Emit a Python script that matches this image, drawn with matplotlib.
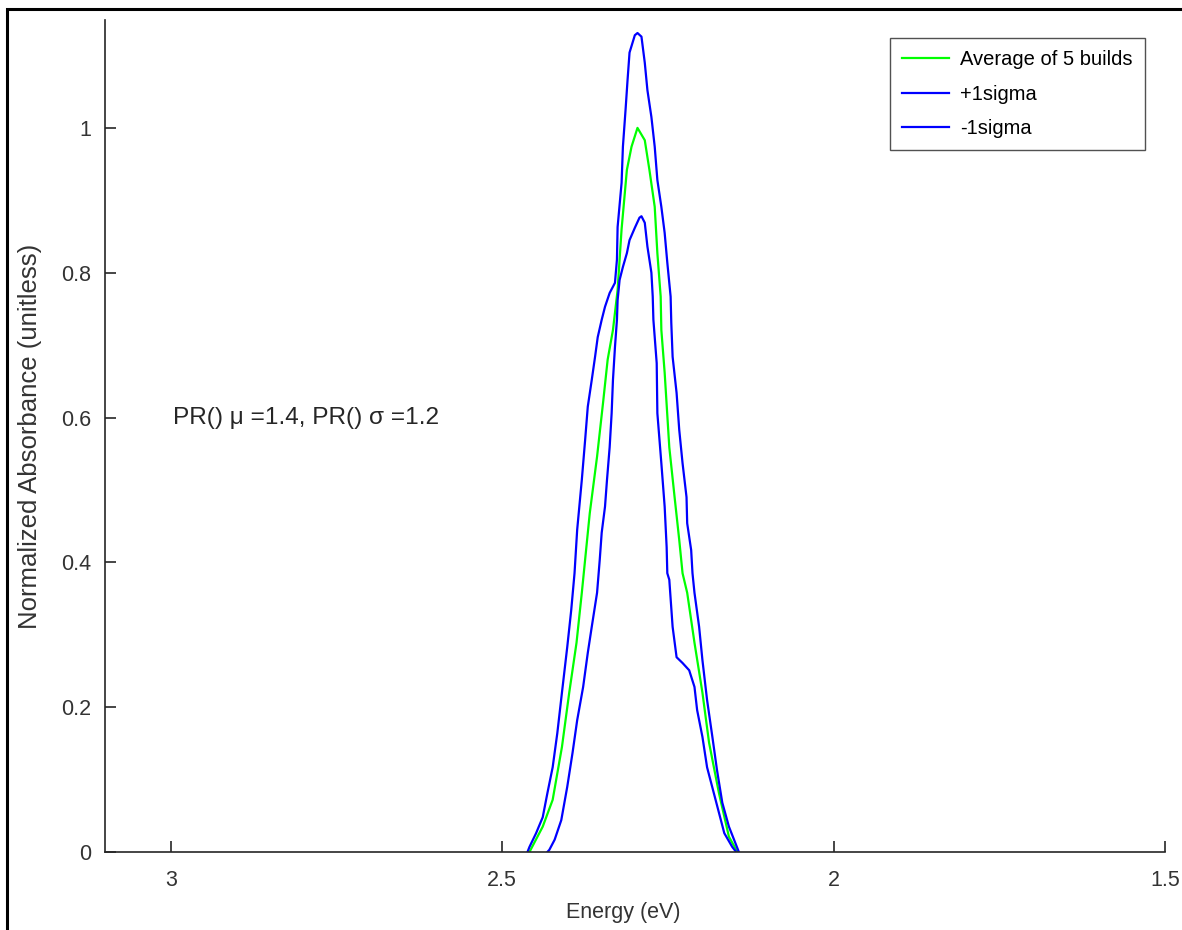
import matplotlib.pyplot as plt
from matplotlib.patches import Rectangle
from matplotlib.ticker import FormatStrFormatter

plt.rcParams['font.family'] = ['Liberation Sans', 'DejaVu Sans']

# average of 5 builds (green)
avg_e = [2.459, 2.439, 2.424, 2.410, 2.399, 2.388, 2.380, 2.368, 2.357, 2.348, 2.341, 2.333,
         2.326, 2.320, 2.312, 2.305, 2.296, 2.285, 2.278, 2.270, 2.266, 2.261, 2.260, 2.255,
         2.248, 2.240, 2.233, 2.228, 2.221, 2.210, 2.198, 2.188, 2.173, 2.158, 2.145]
avg_a = [0, 0.035, 0.072, 0.145, 0.220, 0.289, 0.358, 0.468, 0.546, 0.620, 0.680, 0.721,
         0.776, 0.860, 0.942, 0.974, 1.0, 0.983, 0.942, 0.891, 0.827, 0.767, 0.721, 0.662,
         0.559, 0.490, 0.431, 0.385, 0.358, 0.289, 0.220, 0.151, 0.081, 0.021, 0]

# +1 sigma
up_e = [2.462, 2.459, 2.449, 2.439, 2.432, 2.424, 2.417, 2.410, 2.402, 2.396,
        2.391, 2.387, 2.380, 2.375, 2.371, 2.365, 2.360, 2.356, 2.350, 2.345,
        2.338, 2.330, 2.327, 2.326, 2.320, 2.318, 2.314, 2.311, 2.308, 2.300, 2.296,
        2.290, 2.285, 2.281, 2.275, 2.270, 2.266, 2.260, 2.255, 2.251, 2.246,
        2.245, 2.243, 2.237, 2.233, 2.228, 2.222, 2.221, 2.215, 2.213, 2.210,
        2.203, 2.198, 2.191, 2.183, 2.176, 2.168, 2.158, 2.146, 2.143]
up_a = [0, 0.007, 0.026, 0.048, 0.081, 0.117, 0.164, 0.220, 0.283, 0.334,
        0.385, 0.445, 0.514, 0.569, 0.615, 0.652, 0.684, 0.711, 0.735, 0.753,
        0.772, 0.786, 0.818, 0.863, 0.924, 0.974, 1.025, 1.066, 1.104, 1.128, 1.131,
        1.126, 1.090, 1.052, 1.015, 0.974, 0.928, 0.891, 0.855, 0.814, 0.767,
        0.731, 0.684, 0.634, 0.583, 0.537, 0.490, 0.454, 0.417, 0.385, 0.358,
        0.311, 0.265, 0.210, 0.159, 0.113, 0.068, 0.035, 0.007, 0]

# -1 sigma
lo_e = [2.432, 2.429, 2.421, 2.411, 2.402, 2.394, 2.387, 2.378, 2.371, 2.365, 2.357, 2.353,
        2.350, 2.345, 2.342, 2.338, 2.335, 2.333, 2.330, 2.327, 2.326, 2.323, 2.318, 2.312,
        2.308, 2.300, 2.293, 2.290,
        2.285, 2.281, 2.275, 2.273, 2.272, 2.267, 2.266, 2.260, 2.255, 2.252, 2.251, 2.248,
        2.243, 2.237, 2.228, 2.218, 2.210, 2.206, 2.198, 2.191, 2.177, 2.165, 2.153, 2.147]
lo_a = [0, 0.003, 0.017, 0.044, 0.090, 0.137, 0.182, 0.228, 0.275, 0.311, 0.358, 0.403,
        0.441, 0.477, 0.514, 0.559, 0.606, 0.652, 0.697, 0.735, 0.762, 0.790, 0.808, 0.827,
        0.845, 0.862, 0.876, 0.878,
        0.869, 0.836, 0.800, 0.767, 0.735, 0.675, 0.606, 0.537, 0.477, 0.421, 0.385, 0.376,
        0.311, 0.269, 0.261, 0.251, 0.228, 0.196, 0.159, 0.117, 0.068, 0.026, 0.007, 0]

xticks = [3, 2.5, 2, 1.5]
yticks = [0, 0.2, 0.4, 0.6, 0.8, 1]

fig = plt.figure(figsize=(11.82, 9.30), dpi=100)
ax = fig.add_axes([105/1182, 78/930, 1060/1182, 832/930])

ax.plot(avg_e, avg_a, color='#00ff00', lw=1.6, label='Average of 5 builds')
ax.plot(up_e, up_a, color='#0000ff', lw=1.6, label='+1sigma')
ax.plot(lo_e, lo_a, color='#0000ff', lw=1.6, label='-1sigma')

ax.set_xlim(3.0995, 1.5)
ax.set_ylim(0, 1.149)
ax.set_xticks(xticks)
ax.set_yticks(yticks)
ax.xaxis.set_major_formatter(FormatStrFormatter('%g'))
ax.yaxis.set_major_formatter(FormatStrFormatter('%g'))
ax.spines['top'].set_visible(False)
ax.spines['right'].set_visible(False)
for s in ('left', 'bottom'):
    ax.spines[s].set_color('#262626')
    ax.spines[s].set_linewidth(1.2)
ax.tick_params(direction='in', length=8, width=1.2, color='#262626',
               labelsize=15.5, labelcolor='#333333')
ax.tick_params(axis='x', pad=13)
ax.tick_params(axis='y', pad=10)

ax.set_xlabel('Energy (eV)', fontsize=15.5, color='#333333')
ax.xaxis.set_label_coords(518/1060, -50/832)
ax.set_ylabel('Normalized Absorbance (unitless)', fontsize=18.5, color='#333333')
ax.yaxis.set_label_coords(-63/1060, 0.5)

ax.text(2.997, 0.6, 'PR() \u03bc =1.4, PR() \u03c3 =1.2', fontsize=17.6,
        color='#262626', ha='left', va='center')

leg = ax.legend(loc='upper right', fontsize=14.5, frameon=True, fancybox=False,
                edgecolor='#262626', handlelength=2.35, handletextpad=0.55,
                borderpad=0.6, labelspacing=0.77, borderaxespad=0)
leg.get_frame().set_linewidth(1.0)
leg.set_bbox_to_anchor((1145/1182, 1 - 38/930), transform=fig.transFigure)

# outer frame, clipped at right and bottom edges
fig.patches.append(Rectangle((7/1182, -0.1), 1.2, 0.1 + (930 - 9)/930,
                             transform=fig.transFigure, fill=False,
                             edgecolor='black', linewidth=2.2))

fig.savefig('out.png', dpi=100)
